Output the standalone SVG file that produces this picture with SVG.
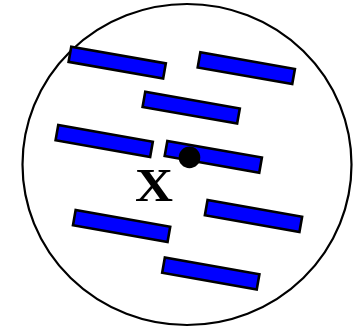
<svg xmlns="http://www.w3.org/2000/svg" width="353" height="328" viewBox="0 0 353 328">
<style>
.bar{fill:#0000ff;stroke:#000;stroke-width:2.6}
.outline{fill:#fff;stroke:#000;stroke-width:2.2}
.lbl{font-family:"Liberation Serif","Times New Roman",serif;font-weight:bold;font-size:46px;fill:#000}
</style>
<defs>
<rect id="b" class="bar" x="-48" y="-7.7" width="96" height="15.4"/>
</defs>
<rect width="353" height="328" fill="#fff"/>
<g id="boundary"><ellipse class="outline" cx="187" cy="164.5" rx="164.5" ry="160.5"/></g>
<g id="connectors"/>
<g id="bar1"><use href="#b" transform="translate(117.2,62.6) rotate(10)"/></g>
<g id="bar2"><use href="#b" transform="translate(246.3,68.2) rotate(10)"/></g>
<g id="bar3"><use href="#b" transform="translate(191.2,107.7) rotate(10)"/></g>
<g id="bar4"><use href="#b" transform="translate(104.2,141) rotate(10)"/></g>
<g id="bar5"><use href="#b" transform="translate(213.3,156.8) rotate(10)"/></g>
<g id="bar6"><use href="#b" transform="translate(253.5,216) rotate(10)"/></g>
<g id="bar7"><use href="#b" transform="translate(121.6,226) rotate(10)"/></g>
<g id="bar8"><use href="#b" transform="translate(210.8,273.5) rotate(10)"/></g>
<g id="point"><circle cx="189.5" cy="157.4" r="10.8" fill="#000"/></g>
<g id="label"><text class="lbl" x="135" y="201" textLength="38" lengthAdjust="spacingAndGlyphs">X</text></g>
</svg>
